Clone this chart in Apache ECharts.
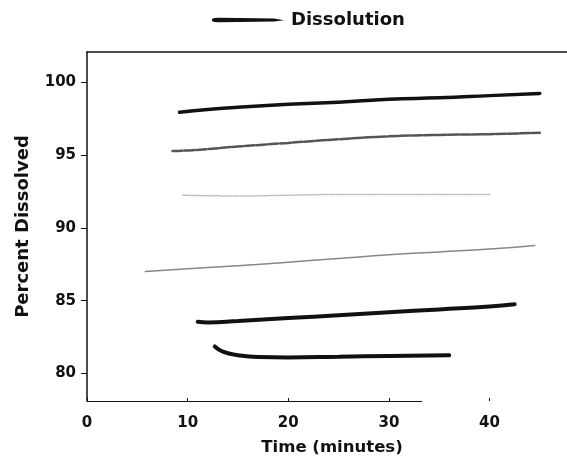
<!DOCTYPE html>
<html>
<head>
<meta charset="utf-8">
<script src="https://cdn.jsdelivr.net/npm/echarts@6/dist/echarts.min.js"></script>
<style>
html,body{margin:0;padding:0;background:#fff;}
#chart{width:567px;height:466px;}
</style>
</head>
<body>
<div id="chart"></div>
<script>
// Tick labels
const xTicks = [0, 10, 20, 30, 40];
const yTicks = [80, 85, 90, 95, 100];

// Six dissolution runs (time in minutes, percent dissolved)
const time1 = [9.2, 12, 15, 20, 25, 30, 35, 40, 45];
const pct1  = [97.95, 98.15, 98.3, 98.5, 98.65, 98.85, 98.95, 99.1, 99.25];

const time2 = [8.5, 10.5, 15, 20, 25, 30, 35, 40, 45];
const pct2  = [95.3, 95.35, 95.6, 95.85, 96.1, 96.3, 96.4, 96.45, 96.55];

const time3 = [9.5, 15, 20, 25, 30, 35, 40];
const pct3  = [92.25, 92.2, 92.25, 92.3, 92.3, 92.3, 92.3];

const time4 = [5.8, 10, 15, 20, 25, 30, 35, 40, 44.5];
const pct4  = [87.0, 87.2, 87.4, 87.65, 87.9, 88.15, 88.35, 88.55, 88.8];

const time5 = [11, 12, 15, 20, 25, 30, 35, 40, 42.5];
const pct5  = [83.55, 83.5, 83.6, 83.8, 84.0, 84.2, 84.4, 84.6, 84.75];

const time6 = [12.7, 13.5, 15, 17, 20, 25, 30, 36];
const pct6  = [81.85, 81.5, 81.25, 81.12, 81.1, 81.15, 81.2, 81.25];

const runs = [
  {t: time1, p: pct1, w: 3.5, c: '#111', type: 'solid'},
  {t: time2, p: pct2, w: 2.5, c: '#555', type: [10, 2]},
  {t: time3, p: pct3, w: 1.5, c: '#bbb', type: 'dotted'},
  {t: time4, p: pct4, w: 1.5, c: '#888', type: 'solid'},
  {t: time5, p: pct5, w: 4, c: '#111', type: 'solid'},
  {t: time6, p: pct6, w: 4, c: '#111', type: 'solid'}
];

const FONT = '"DejaVu Sans", sans-serif';
const X_MIN = 0, X_MAX = 47.7, Y_MIN = 78.1, Y_MAX = 102.1;

const series = runs.map((r, i) => ({
  name: i === 0 ? 'Dissolution' : 'run' + (i + 1),
  type: 'line',
  smooth: true,
  showSymbol: false,
  data: r.t.map((t, k) => [t, r.p[k]]),
  lineStyle: {width: r.w, color: r.c, type: r.type, cap: 'round'},
  itemStyle: {color: '#111'},
  emphasis: {disabled: true}
}));

// bottom frame line (fades out in the scan)
series.push({
  type: 'line', data: [], silent: true,
  markLine: {
    symbol: 'none', silent: true, label: {show: false},
    lineStyle: {color: '#111', width: 1.2, type: 'solid'},
    data: [[{coord: [X_MIN, Y_MIN]}, {coord: [33.3, Y_MIN]}]]
  }
});

const chart = echarts.init(document.getElementById('chart'), null, {renderer: 'canvas'});
chart.setOption({
  animation: false,
  backgroundColor: '#fff',
  legend: {
    data: ['Dissolution'],
    left: 207, top: 6,
    itemWidth: 72, itemHeight: 6, itemGap: 8,
    icon: 'path://M0,2 Q2,0.5 8,0.8 L62,1.5 L72,3.2 L62,4.5 L8,5.2 Q2,5.5 0,4 Z',
    textStyle: {fontFamily: FONT, fontWeight: 'bold', fontSize: 18, color: '#111', padding: [0,0,0,2]}
  },
  grid: {left: 87, right: 0, top: 52, bottom: 65},
  xAxis: [{
    type: 'value', min: X_MIN, max: X_MAX, interval: 10,
    name: 'Time (minutes)', nameLocation: 'middle', nameGap: 38,
    nameTextStyle: {fontFamily: FONT, fontWeight: 'bold', fontSize: 16.5, color: '#111', padding: [0,0,0,10]},
    axisLine: {show: false},
    axisTick: {show: true, inside: true, length: 3, lineStyle: {color: '#111'}, customValues: xTicks},
    axisLabel: {fontFamily: FONT, fontWeight: 'bold', fontSize: 15, color: '#111', margin: 15,
      customValues: xTicks},
    splitLine: {show: false}
  }, {
    type: 'value', min: X_MIN, max: X_MAX, position: 'top',
    axisLine: {show: true, lineStyle: {color: '#111', width: 1.5}},
    axisTick: {show: false}, axisLabel: {show: false}, splitLine: {show: false}
  }],
  yAxis: {
    type: 'value', min: Y_MIN, max: Y_MAX,
    name: 'Percent Dissolved', nameLocation: 'middle', nameGap: 55, nameRotate: 90,
    nameTextStyle: {fontFamily: FONT, fontWeight: 'bold', fontSize: 18, color: '#111'},
    axisLine: {show: true, lineStyle: {color: '#111', width: 1.5}},
    axisTick: {show: true, length: 6, lineStyle: {color: '#111'}, customValues: yTicks},
    axisLabel: {fontFamily: FONT, fontWeight: 'bold', fontSize: 15, color: '#111', margin: 11, customValues: yTicks},
    splitLine: {show: false}
  },
  series: series
});
</script>
</body>
</html>
